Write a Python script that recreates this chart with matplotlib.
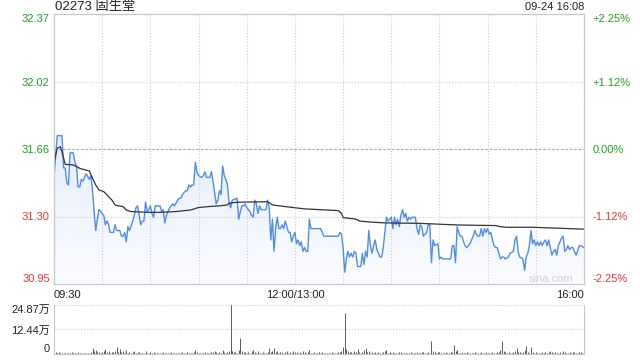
import numpy as np
import matplotlib
matplotlib.use('Agg')
import matplotlib.pyplot as plt
from matplotlib.colors import LinearSegmentedColormap

# 数字は Liberation Sans、漢字は Noto Sans CJK にフォールバック
plt.rcParams['font.family'] = ['Liberation Sans', 'Noto Sans CJK SC']

code_name = '02273 固生堂'
stamp = '09-24 16:08'
prev_close = 31.66
pct_levels = [-2.25, -1.125, 0.0, 1.125, 2.25]
time_ticks = [0, 150, 330]
time_labels = ['09:30', '12:00/13:00', '16:00']

# 分 (09:30 起点、昼休みを除く) と価格
price_min = [0, 2, 5, 6, 7, 8, 9, 10, 12, 13, 14, 15, 16, 17, 18, 19, 20, 22, 23, 24,
             25, 26, 27, 28, 30, 31, 32, 33, 34, 35, 37, 38, 39, 41, 42, 43, 44, 45, 46, 47,
             49, 50, 51, 52, 53, 54, 55, 56, 57, 58, 59, 60, 61, 62, 63, 66, 67, 68, 69, 70,
             71, 72, 73, 74, 75, 77, 78, 79, 80, 81, 82, 83, 84, 85, 86, 87, 88, 89, 90, 92,
             93, 94, 95, 97, 98, 99, 100, 101, 102, 103, 104, 105, 106, 107, 108, 109, 110, 111, 114, 115,
             116, 117, 118, 119, 120, 121, 122, 123, 124, 125, 126, 127, 128, 129, 132, 133, 134, 135, 136, 137,
             138, 139, 140, 141, 142, 143, 144, 145, 146, 147, 148, 149, 150, 151, 152, 153, 154, 155, 156, 157,
             158, 159, 160, 166, 168, 177, 178, 179, 180, 181, 182, 183, 184, 185, 186, 187, 188, 189, 191, 192,
             193, 194, 195, 196, 197, 198, 199, 200, 201, 202, 203, 204, 205, 206, 207, 208, 209, 210, 211, 212,
             213, 214, 215, 216, 217, 218, 219, 220, 221, 222, 223, 225, 226, 227, 228, 229, 230, 231, 232, 233,
             234, 235, 236, 237, 239, 240, 241, 242, 247, 248, 249, 250, 251, 252, 253, 254, 255, 256, 257, 258,
             259, 260, 261, 262, 263, 264, 265, 266, 267, 268, 269, 270, 271, 272, 273, 274, 275, 276, 277, 278,
             279, 280, 281, 283, 284, 286, 287, 288, 289, 290, 292, 293, 294, 295, 296, 297, 298, 299, 300, 301,
             302, 303, 304, 305, 306, 307, 308, 309, 310, 311, 312, 313, 314, 315, 316, 317, 318, 319, 320, 321,
             322, 323, 324, 325, 326, 327, 328, 330]
price = [31.51, 31.73, 31.73, 31.56, 31.56, 31.48, 31.47, 31.64, 31.64, 31.59, 31.57, 31.46, 31.46, 31.50, 31.49, 31.51, 31.53, 31.50, 31.52, 31.44,
         31.33, 31.23, 31.29, 31.34, 31.32, 31.31, 31.26, 31.28, 31.26, 31.22, 31.22, 31.26, 31.23, 31.23, 31.20, 31.20, 31.22, 31.17, 31.25, 31.23,
         31.28, 31.31, 31.35, 31.36, 31.31, 31.26, 31.28, 31.28, 31.38, 31.33, 31.34, 31.36, 31.32, 31.30, 31.36, 31.36, 31.33, 31.34, 31.27, 31.31,
         31.33, 31.35, 31.36, 31.37, 31.36, 31.39, 31.40, 31.40, 31.42, 31.43, 31.44, 31.44, 31.47, 31.46, 31.47, 31.47, 31.59, 31.54, 31.52, 31.51,
         31.52, 31.54, 31.51, 31.51, 31.54, 31.49, 31.43, 31.37, 31.39, 31.44, 31.42, 31.57, 31.52, 31.50, 31.47, 31.38, 31.35, 31.39, 31.40, 31.29,
         31.33, 31.36, 31.36, 31.37, 31.35, 31.34, 31.33, 31.31, 31.30, 31.39, 31.37, 31.32, 31.36, 31.34, 31.34, 31.39, 31.35, 31.18, 31.29, 31.12,
         31.24, 31.30, 31.24, 31.24, 31.26, 31.24, 31.28, 31.25, 31.22, 31.22, 31.17, 31.20, 31.22, 31.16, 31.18, 31.15, 31.17, 31.12, 31.14, 31.12,
         31.12, 31.29, 31.24, 31.24, 31.20, 31.20, 31.22, 31.21, 31.14, 31.01, 31.08, 31.12, 31.09, 31.11, 31.09, 31.12, 31.11, 31.04, 31.04, 31.11,
         31.05, 31.12, 31.09, 31.23, 31.15, 31.11, 31.15, 31.18, 31.13, 31.11, 31.09, 31.09, 31.14, 31.22, 31.30, 31.28, 31.29, 31.30, 31.24, 31.30,
         31.26, 31.29, 31.25, 31.31, 31.34, 31.30, 31.32, 31.28, 31.30, 31.29, 31.30, 31.30, 31.24, 31.21, 31.26, 31.25, 31.20, 31.21, 31.22, 31.26,
         31.26, 31.06, 31.18, 31.15, 31.16, 31.08, 31.09, 31.08, 31.08, 31.15, 31.15, 31.06, 31.25, 31.22, 31.20, 31.20, 31.17, 31.15, 31.14, 31.15,
         31.16, 31.18, 31.20, 31.23, 31.21, 31.20, 31.20, 31.24, 31.20, 31.24, 31.22, 31.24, 31.21, 31.22, 31.18, 31.15, 31.14, 31.14, 31.11, 31.08,
         31.09, 31.09, 31.08, 31.09, 31.11, 31.12, 31.18, 31.20, 31.12, 31.09, 31.08, 31.02, 31.09, 31.11, 31.15, 31.23, 31.16, 31.18, 31.15, 31.17,
         31.15, 31.17, 31.15, 31.17, 31.18, 31.15, 31.18, 31.14, 31.10, 31.12, 31.13, 31.10, 31.15, 31.17, 31.19, 31.20, 31.12, 31.13, 31.15, 31.13,
         31.14, 31.14, 31.12, 31.10, 31.12, 31.15, 31.15, 31.14]

# 均価
avg_min = [0, 2, 4, 5, 7, 12, 16, 22, 24, 26, 28, 31, 33, 36, 38, 40, 43, 45, 48, 58,
           67, 76, 85, 90, 96, 103, 108, 109, 114, 133, 136, 144, 156, 170, 177, 179, 180, 188, 190, 198,
           206, 226, 235, 252, 275, 278, 282, 298, 330]
avg_price = [31.585, 31.664, 31.672, 31.644, 31.579, 31.576, 31.558, 31.544, 31.506, 31.470, 31.444, 31.435, 31.418, 31.391, 31.365, 31.360, 31.356, 31.338, 31.330, 31.326,
             31.326, 31.330, 31.338, 31.351, 31.356, 31.360, 31.365, 31.374, 31.379, 31.382, 31.365, 31.356, 31.344, 31.338, 31.335, 31.321, 31.298, 31.290, 31.280, 31.274,
             31.270, 31.268, 31.265, 31.259, 31.256, 31.250, 31.247, 31.247, 31.237]

# 出来高 (万股)、1分ごと
volume = [1.2, 0.8, 0.5, 0.9, 0.6, 0.4, 0.7, 0.5, 0.3, 0.6,
          0.5, 0.8, 0.4, 0.6, 0.3, 0.9, 0.5, 0.4, 0.6, 0.3,
          0.5, 0.7, 0.4, 1.1, 3.0, 1.4, 1.8, 0.9, 1.2, 0.7,
          1.0, 1.6, 2.6, 0.8, 1.3, 0.6, 1.1, 0.9, 1.5, 3.5,
          1.2, 2.4, 0.8, 1.4, 0.6, 1.9, 0.7, 1.1, 0.5, 0.9,
          1.6, 0.6, 0.8, 1.2, 0.4, 0.7, 0.5, 1.3, 0.6, 0.4,
          0.8, 0.5, 1.0, 0.3, 0.6, 0.4, 0.7, 0.5, 0.9, 0.4,
          0.6, 0.3, 0.5, 0.8, 0.4, 0.6, 0.3, 0.7, 0.5, 0.4,
          0.9, 0.5, 0.6, 1.2, 0.4, 0.7, 0.5, 0.8, 2.2, 1.0,
          0.6, 0.4, 0.7, 0.5, 0.8, 0.4, 0.6, 0.3, 0.9, 1.1,
          1.4, 0.8, 0.6, 1.0, 0.7, 1.8, 0.9, 0.6, 1.2, 1.6,
          24.87, 1.3, 0.9, 1.1, 0.7, 2.0, 8.0, 1.4, 0.8, 1.2,
          0.6, 1.0, 0.5, 1.3, 2.1, 0.8, 0.6, 1.5, 0.7, 0.5,
          0.9, 0.4, 0.7, 1.2, 2.8, 1.1, 1.6, 3.2, 0.9, 1.4,
          0.6, 0.8, 1.2, 0.5, 0.9, 1.3, 0.7, 1.0, 0.6, 1.5,
          1.1, 0.8, 0.6, 1.0, 0.5, 1.7, 0.9, 0.6, 0.8, 2.0,
          0.7, 0.5, 0.9, 0.4, 0.6, 0.8, 0.5, 1.2, 0.7, 0.4,
          0.6, 0.3, 0.5, 0.8, 0.4, 0.6, 0.5, 0.9, 1.1, 1.4,
          3.6, 21.0, 2.4, 1.3, 0.9, 1.1, 0.7, 1.5, 0.8, 2.5,
          1.0, 0.6, 1.2, 1.8, 2.9, 0.9, 1.4, 0.7, 1.1, 0.6,
          0.8, 0.5, 1.0, 0.7, 0.4, 0.9, 1.3, 1.9, 0.6, 0.8,
          0.5, 1.1, 0.7, 0.4, 0.6, 0.9, 1.2, 0.5, 0.7, 0.4,
          0.6, 0.3, 0.8, 0.5, 0.4, 0.7, 1.0, 0.6, 0.5, 0.8,
          0.9, 0.5, 0.7, 1.1, 0.6, 6.6, 1.4, 0.8, 0.5, 0.9,
          1.2, 0.7, 0.6, 0.4, 0.8, 0.5, 0.6, 0.9, 1.0, 4.6,
          1.5, 1.8, 0.7, 0.5, 0.8, 0.4, 0.6, 0.9, 0.5, 0.7,
          0.6, 0.4, 1.0, 0.5, 0.7, 0.4, 0.8, 0.6, 0.5, 0.9,
          0.7, 0.5, 0.6, 0.8, 0.4, 0.6, 0.9, 1.2, 2.0, 6.6,
          1.3, 0.8, 0.6, 1.0, 0.7, 0.5, 0.9, 1.4, 3.0, 1.1,
          0.8, 0.6, 1.2, 2.2, 4.0, 1.0, 0.7, 3.5, 0.9, 0.6,
          0.8, 0.5, 0.7, 0.4, 0.9, 0.6, 1.1, 0.5, 0.8, 1.3,
          1.0, 0.6, 0.9, 0.5, 0.7, 1.0, 0.6, 1.4, 0.8, 0.5,
          0.7, 0.9, 0.6, 0.8, 1.1, 0.5, 0.7, 1.2, 0.9, 0.6,
          1.4]
vol_ticks = [0, 12.44, 24.87]
vol_labels = ['0', '12.44万', '24.87万']

GREEN = '#1ea51e'
RED = '#f23535'
GRID = '#cccccc'
EDGE = '#c8c8c8'
TEXT = '#222222'

fig = plt.figure(figsize=(6.4, 3.6), dpi=100)
ax = fig.add_axes([54 / 640, 1 - 284 / 360, 530 / 640, 270 / 360])
axv = fig.add_axes([54 / 640, 1 - 354 / 360, 530 / 640, 49 / 360])

levels = [prev_close * (1 + p / 100) for p in pct_levels]
ylo, yhi = levels[0], levels[-1]

# 価格線の下をグラデーションで塗る
poly = ax.fill_between(price_min, price, ylo, color='none', lw=0)
grad = np.linspace(0, 1, 256).reshape(-1, 1)
cmap = LinearSegmentedColormap.from_list('fade', ['#fbfcff', '#d2e1fa'])
img = ax.imshow(grad, extent=[0, 330, ylo, yhi], origin='lower', aspect='auto', cmap=cmap, zorder=1)
img.set_clip_path(poly.get_paths()[0], transform=ax.transData)

ax.plot(price_min, price, color='#4f8cf0', lw=1.0, zorder=3)
ax.plot(avg_min, avg_price, color='#333333', lw=0.9, zorder=3)
ax.axhline(prev_close, color='#aaaaaa', ls=(0, (2, 2)), lw=0.8, zorder=2)

ax.set_xlim(0, 330)
ax.set_ylim(ylo, yhi)
ax.set_xticks(range(0, 331, 30))
ax.set_xticklabels([time_labels[time_ticks.index(t)] if t in time_ticks else '' for t in range(0, 331, 30)],
                   color=TEXT, fontsize=8)
xl = ax.get_xticklabels()
xl[0].set_ha('left')
xl[-1].set_ha('right')
ax.set_yticks(levels)
ax.set_yticklabels([f'{v:.2f}' for v in levels], fontsize=8)
for lab, v in zip(ax.get_yticklabels(), levels):
    lab.set_color(GREEN if v >= prev_close - 1e-9 else RED)
yl = ax.get_yticklabels()
yl[0].set_va('bottom')
yl[-1].set_va('top')
ax.tick_params(axis='y', length=0, pad=3)
ax.tick_params(axis='x', length=0, pad=4)
ax.grid(True, color=GRID, ls=':', lw=0.8, zorder=0)
for s in ax.spines.values():
    s.set_color(EDGE)

# 右側の騰落率
ax2 = ax.twinx()
ax2.set_ylim(ylo, yhi)
ax2.set_yticks(levels)
ax2.set_yticklabels(['0.00%' if p == 0 else f'{p:+.2f}%' for p in pct_levels], fontsize=8)
for lab, p in zip(ax2.get_yticklabels(), pct_levels):
    lab.set_color(GREEN if p >= 0 else RED)
yr = ax2.get_yticklabels()
yr[0].set_va('bottom')
yr[-1].set_va('top')
ax2.tick_params(axis='y', length=0, pad=6)
for s in ax2.spines.values():
    s.set_color(EDGE)

ax.text(0.98, 0.0, 'sina.com', transform=ax.transAxes, ha='right', va='bottom',
        color='#d0d0d0', fontsize=8, zorder=4)

# 出来高
axv.vlines(range(len(volume)), 0, volume, color='#5a5a5a', lw=0.7)
axv.set_xlim(0, 330)
axv.set_ylim(0, 24.87)
axv.set_xticks([])
axv.set_yticks(vol_ticks)
axv.set_yticklabels(vol_labels, fontsize=8, color=TEXT)
vl = axv.get_yticklabels()
vl[0].set_va('bottom')
vl[-1].set_va('top')
axv.tick_params(axis='y', length=0, pad=3)
axv.grid(True, axis='y', color=GRID, ls=':', lw=0.8)
axv.spines['top'].set_visible(False)
for k in ['left', 'right', 'bottom']:
    axv.spines[k].set_color(EDGE)

fig.text(55 / 640, 1 - 7 / 360, code_name, ha='left', va='center', fontsize=9.5, color=TEXT)
fig.text(584 / 640, 1 - 7 / 360, stamp, ha='right', va='center', fontsize=8, color=TEXT)

fig.savefig('out.png', dpi=100)
